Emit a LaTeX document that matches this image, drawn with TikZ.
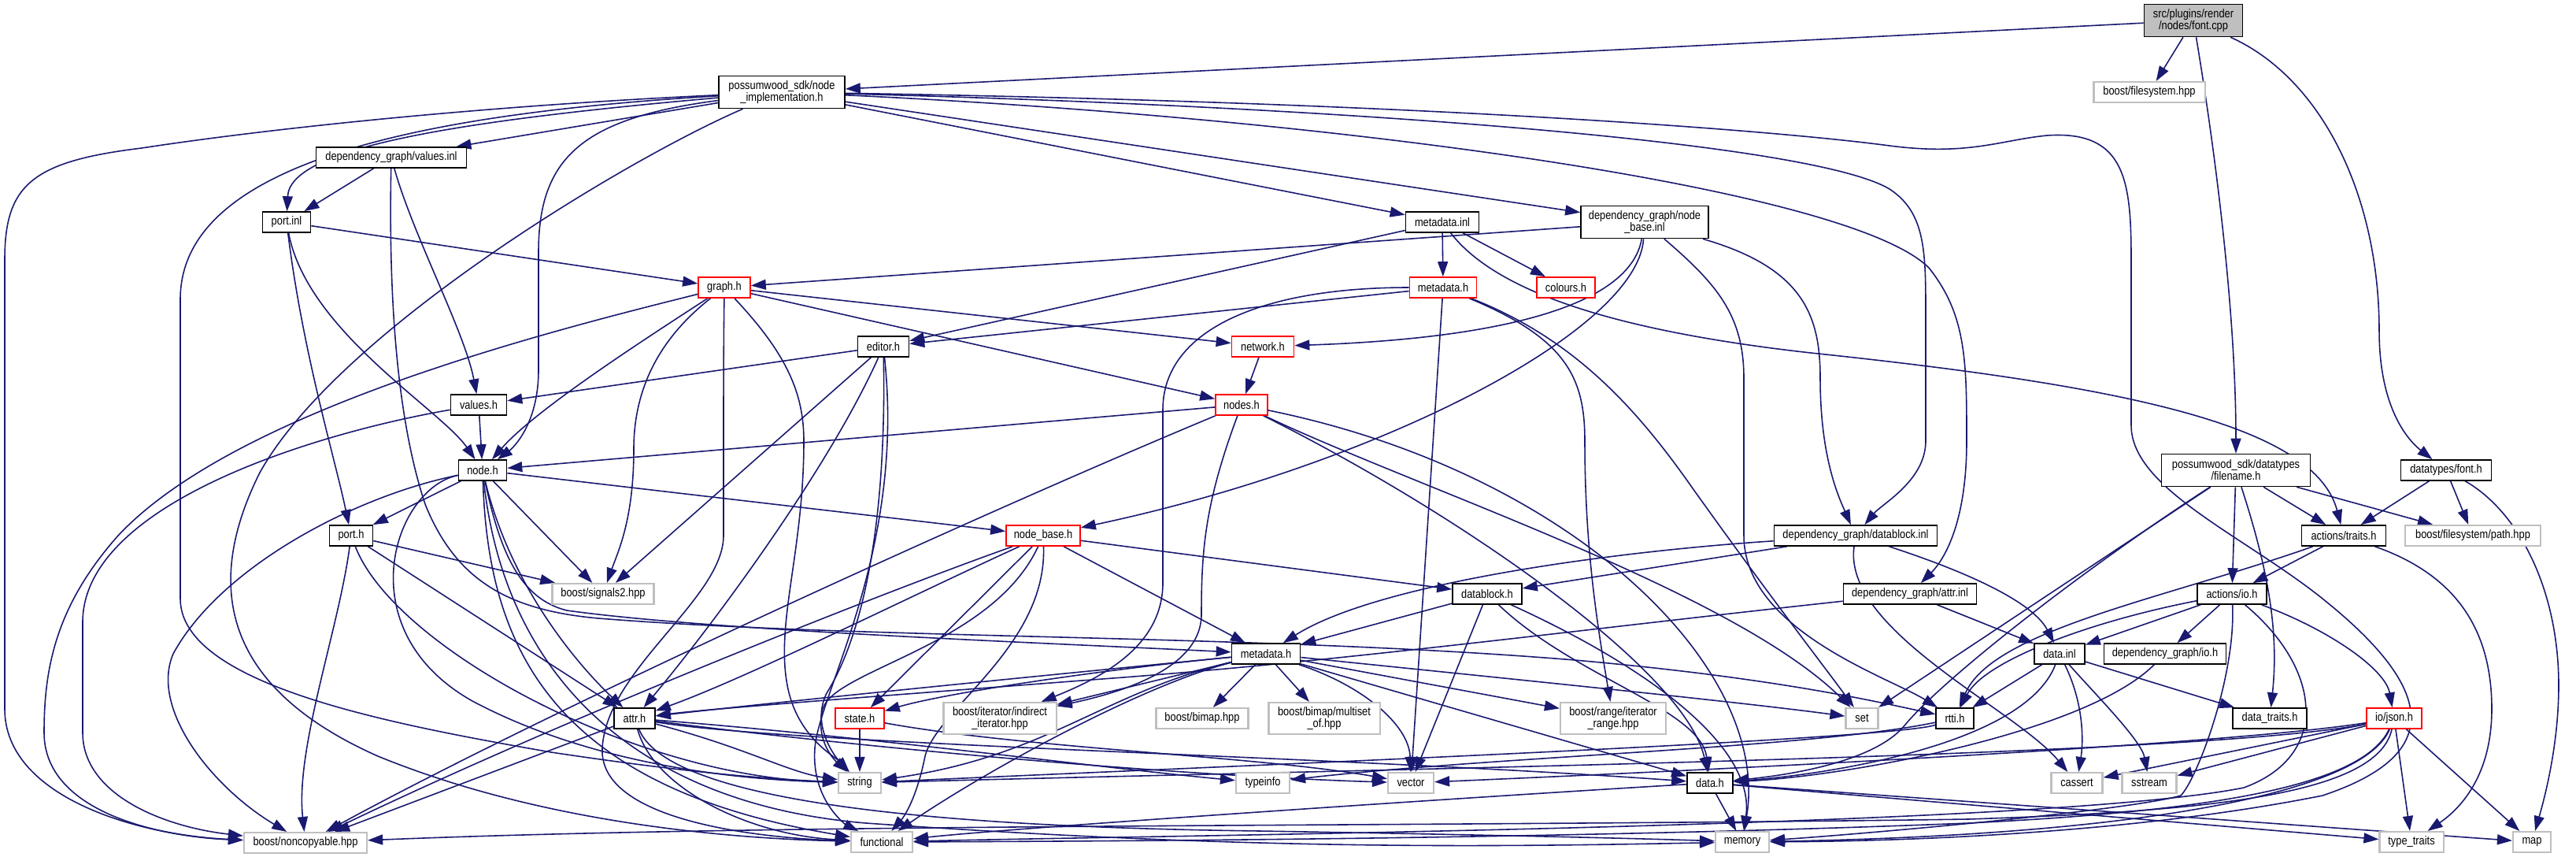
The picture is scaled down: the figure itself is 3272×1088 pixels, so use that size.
\documentclass[tikz,border=0pt]{standalone}
\usepackage{fontspec}
\setmainfont{Liberation Sans}[FakeStretch=0.85]
\usetikzlibrary{arrows.meta,backgrounds}
\definecolor{edgec}{HTML}{191970}
\definecolor{extc}{HTML}{BFBFBF}
\definecolor{fillg}{HTML}{BFBFBF}
\begin{document}
\begin{tikzpicture}[x=0.01cm,y=-0.01cm,
  box/.style={font=\fontsize{4.3}{4.3}\selectfont, inner sep=0pt, align=center, minimum height=0.26cm, line width=0.45pt, fill=white},
  doc/.style={box, draw=black},
  ext/.style={box, draw=extc, line width=0.6pt},
  trunc/.style={box, draw=red},
  root/.style={box, draw=black, fill=fillg},
  two/.style={minimum height=0.41cm},
  e/.style={draw=edgec, line width=0.45pt, -{Triangle[length=0.19cm,width=0.13cm]}},
]
\useasboundingbox (0,0) rectangle (3272,1088);
% nodes
\node[root, two, minimum width=1.25cm] (fontcpp) at (2786,26) {src/plugins/render\\/nodes/font.cpp};
\node[ext, minimum width=1.41cm] (fs) at (2730,117) {boost/filesystem.hpp};
\node[doc, two, minimum width=1.60cm] (nimpl) at (993,117) {possumwood\_sdk/node\\\_implementation.h};
\node[doc, minimum width=1.91cm] (valuesinl) at (497,200) {dependency\_graph/values.inl};
\node[doc, minimum width=0.61cm] (portinl) at (364,282) {port.inl};
\node[doc, minimum width=0.93cm] (metainl) at (1832,282) {metadata.inl};
\node[doc, two, minimum width=1.62cm] (nbinl) at (2089,282) {dependency\_graph/node\\\_base.inl};
\node[trunc, minimum width=0.66cm] (graph) at (920,365) {graph.h};
\node[trunc, minimum width=0.85cm] (metahred) at (1833,365) {metadata.h};
\node[trunc, minimum width=0.74cm] (colours) at (1989,365) {colours.h};
\node[doc, minimum width=0.65cm] (editor) at (1122,440) {editor.h};
\node[trunc, minimum width=0.79cm] (network) at (1604,440) {network.h};
\node[doc, minimum width=0.71cm] (valuesh) at (608,514) {values.h};
\node[trunc, minimum width=0.66cm] (nodes) at (1577,514) {nodes.h};
\node[doc, minimum width=0.61cm] (nodeh) at (613,597) {node.h};
\node[doc, two, minimum width=1.89cm] (filename) at (2840,597) {possumwood\_sdk/datatypes\\/filename.h};
\node[doc, minimum width=1.15cm] (fonth) at (3107,597) {datatypes/font.h};
\node[doc, minimum width=0.55cm] (porth) at (446,680) {port.h};
\node[trunc, minimum width=0.94cm] (nodebase) at (1325,680) {node\_base.h};
\node[doc, minimum width=2.07cm] (dbinl) at (2357,680) {dependency\_graph/datablock.inl};
\node[doc, minimum width=1.07cm] (traits) at (2977,680) {actions/traits.h};
\node[ext, minimum width=1.72cm] (fspath) at (3141,680) {boost/filesystem/path.hpp};
\node[ext, minimum width=1.29cm] (signals) at (766,754) {boost/signals2.hpp};
\node[doc, minimum width=0.88cm] (datablockh) at (1889,754) {datablock.h};
\node[doc, minimum width=1.69cm] (attrinl) at (2426,754) {dependency\_graph/attr.inl};
\node[doc, minimum width=0.88cm] (io) at (2835,754) {actions/io.h};
\node[doc, minimum width=0.87cm] (metah) at (1608,830) {metadata.h};
\node[doc, minimum width=0.64cm] (datainl) at (2616,830) {data.inl};
\node[doc, minimum width=1.55cm] (dgio) at (2750,830) {dependency\_graph/io.h};
\node[doc, minimum width=0.52cm] (attrh) at (806,912) {attr.h};
\node[trunc, minimum width=0.62cm] (state) at (1092,912) {state.h};
\node[ext, minimum height=0.40cm, minimum width=1.43cm] (indirect) at (1270,912) {boost/iterator/indirect\\\_iterator.hpp};
\node[ext, minimum width=1.17cm] (bimap) at (1527,912) {boost/bimap.hpp};
\node[ext, minimum height=0.40cm, minimum width=1.41cm] (multiset) at (1682,912) {boost/bimap/multiset\\\_of.hpp};
\node[ext, minimum height=0.40cm, minimum width=1.34cm] (range) at (2049,912) {boost/range/iterator\\\_range.hpp};
\node[ext, minimum width=0.41cm] (set) at (2365,912) {set};
\node[doc, minimum width=0.48cm] (rtti) at (2483,912) {rtti.h};
\node[doc, minimum width=0.94cm] (datatraits) at (2883,912) {data\_traits.h};
\node[trunc, minimum width=0.70cm] (json) at (3041,912) {io/json.h};
\node[ext, minimum width=0.54cm] (string) at (1092,994) {string};
\node[ext, minimum width=0.68cm] (typeinfo) at (1604,994) {typeinfo};
\node[ext, minimum width=0.58cm] (vector) at (1792,994) {vector};
\node[doc, minimum width=0.58cm] (datah) at (2172,994) {data.h};
\node[ext, minimum width=0.65cm] (cassert) at (2638,994) {cassert};
\node[ext, minimum width=0.69cm] (sstream) at (2730,994) {sstream};
\node[ext, minimum width=1.56cm] (noncopy) at (388,1070) {boost/noncopyable.hpp};
\node[ext, minimum width=0.78cm] (functional) at (1120,1069) {functional};
\node[ext, minimum width=0.68cm] (memory) at (2213,1069) {memory};
\node[ext, minimum width=0.81cm] (typetraits) at (3063,1069) {type\_traits};
\node[ext, minimum width=0.48cm] (map) at (3216,1069) {map};
% edges
\begin{scope}[on background layer]
\fill[white] (0,0) rectangle (3272,1088);
% font.cpp
\draw[e] (fontcpp) -- (nimpl);
\draw[e] (fontcpp) -- (fs);
\draw[e] (fontcpp) .. controls (2815,200) and (2840,400) .. (filename);
\draw[e] (fontcpp) .. controls (2950,100) and (3022,250) .. (3022,420) .. controls (3022,520) and (3060,560) .. (fonth);
% node_implementation
\draw[e] (nimpl) -- (valuesinl);
\draw[e] (nimpl) .. controls (560,155) and (368,190) .. (portinl);
\draw[e] (nimpl) .. controls (600,135) and (330,165) .. (180,188) .. controls (40,205) and (6,235) .. (6,330) -- (6,900) .. controls (6,1010) and (170,1060) .. (noncopy);
\draw[e] (nimpl) .. controls (520,145) and (229,210) .. (229,380) -- (229,760) .. controls (229,870) and (500,920) .. (700,955) .. controls (900,985) and (1000,990) .. (string);
\draw[e] (nimpl) .. controls (800,200) and (430,420) .. (330,600) .. controls (250,760) and (300,880) .. (480,960) .. controls (700,1050) and (950,1065) .. (functional);
\draw[e] (nimpl) .. controls (740,150) and (684,200) .. (684,320) -- (684,470) .. controls (684,540) and (650,570) .. (nodeh);
\draw[e] (nimpl) -- (metainl);
\draw[e] (nimpl) -- (nbinl);
\draw[e] (nimpl) .. controls (1700,135) and (2300,180) .. (2400,240) .. controls (2446,270) and (2446,320) .. (2446,400) -- (2446,560) .. controls (2446,610) and (2390,640) .. (dbinl);
\draw[e] (nimpl) .. controls (1700,150) and (2350,240) .. (2450,340) .. controls (2498,400) and (2498,460) .. (2498,560) .. controls (2498,680) and (2460,720) .. (attrinl);
\draw[e] (nimpl) .. controls (1800,130) and (2250,165) .. (2400,185) .. controls (2500,198) and (2540,178) .. (2600,172) .. controls (2700,165) and (2707,230) .. (2707,330) -- (2707,540) .. controls (2707,620) and (2850,680) .. (2950,760) .. controls (3100,880) and (3100,960) .. (2950,1010) .. controls (2700,1060) and (2400,1068) .. (memory);
% values.inl
\draw[e] (valuesinl) -- (portinl);
\draw[e] (valuesinl) .. controls (525,300) and (590,420) .. (valuesh);
\draw[e] (valuesinl) .. controls (494,350) and (500,520) .. (540,640) .. controls (580,740) and (650,775) .. (760,785) .. controls (1100,812) and (1600,805) .. (2000,838) .. controls (2250,860) and (2380,890) .. (rtti);
% port.inl
\draw[e] (portinl) -- (graph);
\draw[e] (portinl) .. controls (390,420) and (560,520) .. (nodeh);
\draw[e] (portinl) .. controls (385,450) and (425,580) .. (porth);
% metadata.inl
\draw[e] (metainl) -- (metahred);
\draw[e] (metainl) -- (colours);
\draw[e] (metainl) -- (editor);
\draw[e] (metainl) .. controls (1900,370) and (2050,420) .. (2300,448) .. controls (2700,490) and (2940,540) .. (traits);
% node_base.inl
\draw[e] (nbinl) -- (graph);
\draw[e] (nbinl) .. controls (2070,390) and (1900,430) .. (network);
\draw[e] (nbinl) .. controls (2080,420) and (1750,590) .. (nodebase);
\draw[e] (nbinl) .. controls (2180,360) and (2215,400) .. (2215,480) -- (2215,680) .. controls (2215,800) and (2400,860) .. (rtti);
\draw[e] (nbinl) .. controls (2290,340) and (2312,400) .. (2312,480) .. controls (2312,580) and (2335,630) .. (dbinl);
% metadata.h (red)
\draw[e] (metahred) -- (editor);
\draw[e] (metahred) .. controls (1600,365) and (1477,420) .. (1477,520) -- (1477,740) .. controls (1477,820) and (1400,860) .. (indirect);
\draw[e] (metahred) -- (vector);
\draw[e] (metahred) .. controls (1990,430) and (2013,480) .. (2013,560) .. controls (2013,700) and (2030,800) .. (range);
\draw[e] (metahred) .. controls (2000,430) and (2080,520) .. (2150,620) .. controls (2250,760) and (2320,850) .. (set);
% editor.h
\draw[e] (editor) -- (valuesh);
\draw[e] (editor) -- (signals);
\draw[e] (editor) .. controls (1050,600) and (900,800) .. (attrh);
\draw[e] (editor) .. controls (1126,650) and (1100,800) .. (1050,880) .. controls (1030,920) and (1060,960) .. (string);
\draw[e] (editor) .. controls (1150,700) and (1040,880) .. (1035,950) .. controls (1030,1020) and (1080,1050) .. (functional);
% values.h
\draw[e] (valuesh) -- (nodeh);
\draw[e] (valuesh) .. controls (400,550) and (105,640) .. (105,790) -- (105,930) .. controls (105,1010) and (210,1050) .. (noncopy);
% graph.h
\draw[e] (graph) .. controls (700,420) and (300,520) .. (150,680) .. controls (70,770) and (56,850) .. (56,930) .. controls (56,1030) and (200,1062) .. (noncopy);
\draw[e] (graph) .. controls (820,430) and (680,520) .. (nodeh);
\draw[e] (graph) .. controls (850,420) and (805,480) .. (805,570) .. controls (805,660) and (785,700) .. (signals);
\draw[e] (graph) .. controls (919,450) and (919,500) .. (919,560) -- (919,680) .. controls (919,760) and (770,850) .. (765,950) .. controls (760,1050) and (1000,1065) .. (functional);
\draw[e] (graph) .. controls (1000,450) and (1021,500) .. (1021,560) .. controls (1021,700) and (985,790) .. (1000,870) .. controls (1012,935) and (1060,960) .. (string);
\draw[e] (graph) -- (network);
\draw[e] (graph) -- (nodes);
% network.h, nodes.h
\draw[e] (network) -- (nodes);
\draw[e] (nodes) -- (nodeh);
\draw[e] (nodes) .. controls (1250,650) and (700,900) .. (noncopy);
\draw[e] (nodes) .. controls (1530,640) and (1526,700) .. (1526,780) .. controls (1526,850) and (1420,880) .. (indirect);
\draw[e] (nodes) .. controls (1800,620) and (2200,750) .. (set);
\draw[e] (nodes) .. controls (1850,650) and (2140,850) .. (datah);
\draw[e] (nodes) .. controls (2000,600) and (2250,850) .. (memory);
% node.h
\draw[e] (nodeh) -- (porth);
\draw[e] (nodeh) -- (signals);
\draw[e] (nodeh) .. controls (650,750) and (740,850) .. (attrh);
\draw[e] (nodeh) -- (nodebase);
\draw[e] (nodeh) .. controls (450,630) and (280,720) .. (220,830) .. controls (190,900) and (270,1000) .. (noncopy);
\draw[e] (nodeh) .. controls (635,700) and (660,760) .. (720,775) .. controls (900,800) and (1300,815) .. (metah);
\draw[e] (nodeh) .. controls (620,820) and (700,1000) .. (functional);
\draw[e] (nodeh) .. controls (640,850) and (800,1020) .. (1100,1045) .. controls (1600,1080) and (1900,1075) .. (memory);
\draw[e] (nodeh) .. controls (500,620) and (440,800) .. (600,890) .. controls (760,975) and (950,990) .. (string);
% port.h
\draw[e] (porth) -- (signals);
\draw[e] (porth) -- (attrh);
\draw[e] (porth) .. controls (430,800) and (375,950) .. (noncopy);
\draw[e] (porth) .. controls (500,820) and (800,985) .. (string);
% filename.h
\draw[e] (filename) -- (traits);
\draw[e] (filename) -- (fspath);
\draw[e] (filename) -- (io);
\draw[e] (filename) .. controls (2880,720) and (2895,800) .. (datatraits);
\draw[e] (filename) -- (set);
\draw[e] (filename) .. controls (2650,720) and (2470,860) .. (2420,920) .. controls (2380,970) and (2260,985) .. (datah);
% datatypes/font.h
\draw[e] (fonth) -- (traits);
\draw[e] (fonth) -- (fspath);
\draw[e] (fonth) .. controls (3200,650) and (3250,750) .. (3250,870) .. controls (3250,950) and (3230,1020) .. (map);
% actions/traits.h
\draw[e] (traits) -- (io);
\draw[e] (traits) .. controls (2750,760) and (2530,800) .. (rtti);
\draw[e] (traits) .. controls (3120,730) and (3165,800) .. (3165,900) .. controls (3165,990) and (3120,1030) .. (typetraits);
% node_base.h
\draw[e] (nodebase) -- (datablockh);
\draw[e] (nodebase) -- (metah);
\draw[e] (nodebase) -- (state);
\draw[e] (nodebase) .. controls (1100,760) and (700,920) .. (noncopy);
\draw[e] (nodebase) .. controls (1150,760) and (950,860) .. (attrh);
\draw[e] (nodebase) .. controls (1260,820) and (1060,850) .. (1045,900) .. controls (1035,940) and (1060,965) .. (string);
\draw[e] (nodebase) .. controls (1330,820) and (1190,900) .. (1175,960) .. controls (1165,1010) and (1150,1035) .. (functional);
% state.h
\draw[e] (state) -- (string);
\draw[e] (state) .. controls (1300,950) and (1600,960) .. (vector);
% datablock.h
\draw[e] (datablockh) -- (metah);
\draw[e] (datablockh) -- (vector);
\draw[e] (datablockh) .. controls (2000,860) and (2160,900) .. (datah);
\draw[e] (datablockh) .. controls (2100,850) and (2230,950) .. (memory);
% datablock.inl
\draw[e] (dbinl) -- (datablockh);
\draw[e] (dbinl) .. controls (2050,700) and (1750,740) .. (metah);
\draw[e] (dbinl) .. controls (2480,720) and (2580,760) .. (datainl);
\draw[e] (dbinl) .. controls (2340,800) and (2560,900) .. (cassert);
% attr.inl
\draw[e] (attrinl) -- (datainl);
\draw[e] (attrinl) .. controls (2000,800) and (1700,840) .. (1400,862) .. controls (1100,885) and (900,900) .. (attrh);
% actions/io.h
\draw[e] (io) -- (datainl);
\draw[e] (io) -- (dgio);
\draw[e] (io) .. controls (2650,790) and (2520,840) .. (rtti);
\draw[e] (io) .. controls (2960,800) and (3030,850) .. (json);
\draw[e] (io) .. controls (2840,860) and (2790,990) .. (2770,1010) .. controls (2700,1030) and (2350,1060) .. (memory);
\draw[e] (io) .. controls (2950,850) and (2960,960) .. (2850,1000) .. controls (2600,1050) and (1500,1060) .. (functional);
% data.inl
\draw[e] (datainl) -- (rtti);
\draw[e] (datainl) .. controls (2570,950) and (2300,985) .. (datah);
\draw[e] (datainl) .. controls (2650,900) and (2645,950) .. (cassert);
\draw[e] (datainl) .. controls (2660,880) and (2720,940) .. (sstream);
\draw[e] (datainl) -- (datatraits);
% dependency_graph/io.h
\draw[e] (dgio) .. controls (2650,930) and (2350,985) .. (datah);
% attr.h
\draw[e] (attrh) .. controls (950,950) and (1000,980) .. (string);
\draw[e] (attrh) .. controls (1100,935) and (1400,975) .. (typeinfo);
\draw[e] (attrh) .. controls (1100,950) and (1500,985) .. (vector);
\draw[e] (attrh) .. controls (1000,945) and (1700,960) .. (datah);
\draw[e] (attrh) .. controls (830,1000) and (950,1060) .. (functional);
\draw[e] (attrh) .. controls (850,1020) and (1200,1050) .. (1600,1055) .. controls (1900,1060) and (2100,1065) .. (memory);
\draw[e] (attrh) -- (noncopy);
% metadata.h
\draw[e] (metah) .. controls (1300,860) and (1000,890) .. (attrh);
\draw[e] (metah) .. controls (1400,850) and (1200,880) .. (state);
\draw[e] (metah) -- (indirect);
\draw[e] (metah) -- (bimap);
\draw[e] (metah) -- (multiset);
\draw[e] (metah) .. controls (1730,870) and (1790,920) .. (vector);
\draw[e] (metah) -- (range);
\draw[e] (metah) .. controls (1900,860) and (2200,890) .. (set);
\draw[e] (metah) -- (datah);
\draw[e] (metah) .. controls (1400,880) and (1330,960) .. (string);
\draw[e] (metah) .. controls (1450,870) and (1250,980) .. (functional);
% rtti.h
\draw[e] (rtti) .. controls (2300,950) and (1900,960) .. (typeinfo);
\draw[e] (rtti) .. controls (2400,940) and (1500,975) .. (string);
% io/json.h
\draw[e] (json) .. controls (2800,960) and (1800,975) .. (string);
\draw[e] (json) .. controls (2800,950) and (2000,985) .. (vector);
\draw[e] (json) -- (cassert);
\draw[e] (json) -- (sstream);
\draw[e] (json) .. controls (3000,1000) and (2800,1030) .. (2500,1045) .. controls (2000,1065) and (1400,1068) .. (functional);
\draw[e] (json) .. controls (3020,1010) and (2800,1030) .. (2500,1040) .. controls (1800,1050) and (1000,1045) .. (noncopy);
\draw[e] (json) .. controls (3000,1010) and (2700,1060) .. (memory);
\draw[e] (json) -- (typetraits);
\draw[e] (json) -- (map);
% data.h
\draw[e] (datah) -- (memory);
\draw[e] (datah) -- (typetraits);
\draw[e] (datah) -- (map);
\draw[e] (datah) .. controls (1900,1010) and (1300,1050) .. (functional);
\end{scope}
\end{tikzpicture}
\end{document}
